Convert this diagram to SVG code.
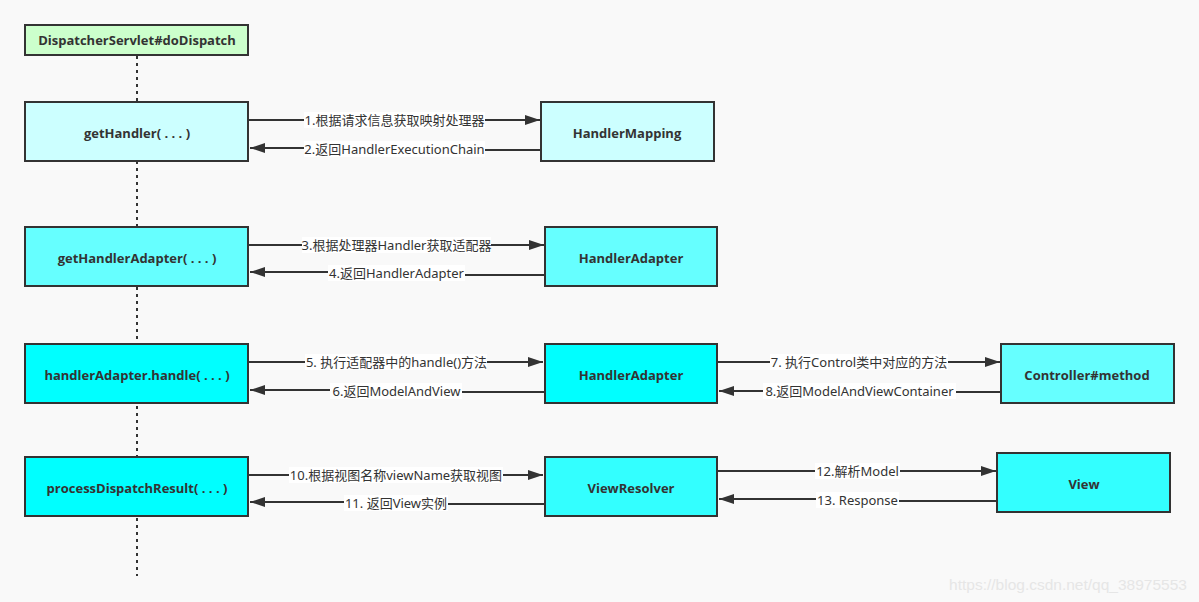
<svg xmlns="http://www.w3.org/2000/svg" width="1199" height="602" viewBox="0 0 1199 602">
<defs>
<marker id="arr" markerUnits="userSpaceOnUse" markerWidth="16" markerHeight="12" refX="15" refY="5" orient="auto">
<path d="M0,0 L15,5 L0,10 z" fill="#333"/>
</marker>
<style>
.box{stroke:#333;stroke-width:2}
.bt{font-family:"Open Sans","Noto Sans",sans-serif;font-weight:bold;font-size:13px;fill:#333;text-anchor:middle;dominant-baseline:central}
.ln{fill:none;stroke:#333;stroke-width:2}
.lb{font-family:"Noto Sans","Noto Sans CJK SC",sans-serif;font-size:13px;fill:#333;text-anchor:middle;dominant-baseline:central}
.lbg{fill:#fff}
.life{stroke:#333;stroke-width:2;stroke-dasharray:3,4}
</style>
</defs>
<rect width="1199" height="602" fill="#f9f9f9"/>
<line class="life" x1="137" y1="56" x2="137" y2="576"/>

<g id="connectors">
<line class="ln" x1="249" y1="120" x2="540" y2="120" marker-end="url(#arr)"/>
<path class="ln" d="M541,150 L394,150 L394,148 L250,148" marker-end="url(#arr)"/>
<line class="ln" x1="249" y1="245" x2="544" y2="245" marker-end="url(#arr)"/>
<path class="ln" d="M545,275 L396,275 L396,272 L250,272" marker-end="url(#arr)"/>
<line class="ln" x1="249" y1="362" x2="543" y2="362" marker-end="url(#arr)"/>
<path class="ln" d="M545,392 L396,392 L396,390 L250,390" marker-end="url(#arr)"/>
<line class="ln" x1="718" y1="362" x2="1000" y2="362" marker-end="url(#arr)"/>
<path class="ln" d="M1001,392 L859,392 L859,391 L719,391" marker-end="url(#arr)"/>
<line class="ln" x1="249" y1="475" x2="543" y2="475" marker-end="url(#arr)"/>
<path class="ln" d="M545,504 L396,504 L396,502 L250,502" marker-end="url(#arr)"/>
<line class="ln" x1="718" y1="471" x2="996" y2="471" marker-end="url(#arr)"/>
<path class="ln" d="M998,501 L857,501 L857,499 L719,499" marker-end="url(#arr)"/>

<rect class="lbg" x="304" y="112" width="181" height="16"/>
<text class="lb" x="394.5" y="120">1.根据请求信息获取映射处理器</text>
<rect class="lbg" x="304" y="141" width="181" height="16"/>
<text class="lb" x="394.5" y="149">2.返回HandlerExecutionChain</text>
<rect class="lbg" x="302" y="237" width="189" height="16"/>
<text class="lb" x="396.5" y="245">3.根据处理器Handler获取适配器</text>
<rect class="lbg" x="328" y="265" width="137" height="16"/>
<text class="lb" x="396.5" y="273">4.返回HandlerAdapter</text>
<rect class="lbg" x="305" y="354" width="182" height="16"/>
<text class="lb" x="396.5" y="362">5. 执行适配器中的handle()方法</text>
<rect class="lbg" x="330" y="383" width="132" height="16"/>
<text class="lb" x="396.5" y="391">6.返回ModelAndView</text>
<rect class="lbg" x="770" y="354" width="178" height="16"/>
<text class="lb" x="859" y="362">7. 执行Control类中对应的方法</text>
<rect class="lbg" x="763" y="383" width="193" height="16"/>
<text class="lb" x="859.5" y="391">8.返回ModelAndViewContainer</text>
<rect class="lbg" x="289" y="467" width="214" height="16"/>
<text class="lb" x="396" y="475">10.根据视图名称viewName获取视图</text>
<rect class="lbg" x="344" y="495" width="104" height="16"/>
<text class="lb" x="396" y="503">11. 返回View实例</text>
<rect class="lbg" x="815" y="463" width="85" height="16"/>
<text class="lb" x="857.5" y="471">12.解析Model</text>
<rect class="lbg" x="816" y="492" width="83" height="16"/>
<text class="lb" x="857.5" y="500">13. Response</text>
</g>

<g id="dispatcher"><rect class="box" x="25" y="25" width="223" height="30" fill="#ccffcc"/><text class="bt" x="137" y="40">DispatcherServlet#doDispatch</text></g>
<g id="getHandler"><rect class="box" x="25" y="102" width="223" height="59" fill="#ccffff"/><text class="bt" x="137" y="133">getHandler( . . . )</text></g>
<g id="handlerMapping"><rect class="box" x="541" y="102" width="173" height="59" fill="#ccffff"/><text class="bt" x="627" y="133">HandlerMapping</text></g>
<g id="getHandlerAdapter"><rect class="box" x="25" y="227" width="223" height="59" fill="#66ffff"/><text class="bt" x="137" y="258">getHandlerAdapter( . . . )</text></g>
<g id="handlerAdapter1"><rect class="box" x="545" y="227" width="172" height="59" fill="#66ffff"/><text class="bt" x="631" y="258">HandlerAdapter</text></g>
<g id="handle"><rect class="box" x="25" y="344" width="223" height="59" fill="#00ffff"/><text class="bt" x="137" y="375">handlerAdapter.handle( . . . )</text></g>
<g id="handlerAdapter2"><rect class="box" x="545" y="344" width="172" height="59" fill="#00ffff"/><text class="bt" x="631" y="375">HandlerAdapter</text></g>
<g id="controller"><rect class="box" x="1001" y="344" width="173" height="59" fill="#66ffff"/><text class="bt" x="1087" y="375">Controller#method</text></g>
<g id="processDispatchResult"><rect class="box" x="25" y="457" width="223" height="59" fill="#00ffff"/><text class="bt" x="137" y="488">processDispatchResult( . . . )</text></g>
<g id="viewResolver"><rect class="box" x="545" y="457" width="172" height="59" fill="#33ffff"/><text class="bt" x="631" y="488">ViewResolver</text></g>
<g id="view"><rect class="box" x="997" y="453" width="173" height="59" fill="#33ffff"/><text class="bt" x="1084" y="484">View</text></g>

<text x="1068" y="584" font-family="'Liberation Sans',Arial,sans-serif" font-size="15.5" fill="#e6e6e6" text-anchor="middle" dominant-baseline="central">https://blog.csdn.net/qq_38975553</text>
</svg>
